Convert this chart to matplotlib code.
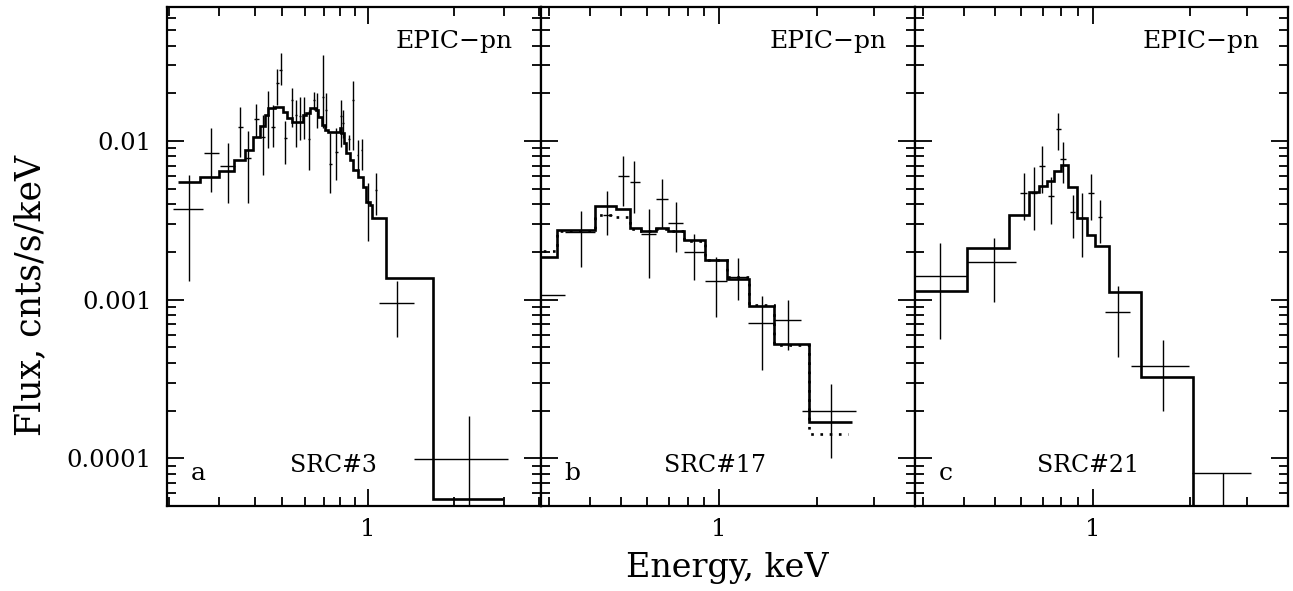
import matplotlib
matplotlib.use("Agg")
import matplotlib.pyplot as plt
import numpy as np
from matplotlib.ticker import LogLocator, FuncFormatter, NullFormatter

# ---- panel a : SRC#3 ----
a_edges = [0.215, 0.257, 0.301, 0.339, 0.371, 0.394, 0.418, 0.435, 0.447, 0.472, 0.505, 0.518,
           0.540, 0.593, 0.608, 0.625, 0.655, 0.668, 0.687, 0.705, 0.725, 0.796, 0.807, 0.824,
           0.840, 0.863, 0.887, 0.923, 0.961, 0.987, 1.013, 1.033, 1.159, 1.697, 2.99]
a_model = [0.00554, 0.00595, 0.0065, 0.00759, 0.00877, 0.01064, 0.01244, 0.01459, 0.01606,
           0.01647, 0.01531, 0.0139, 0.01324, 0.01459, 0.0150, 0.0162, 0.0157, 0.01426, 0.01262,
           0.01173, 0.01146, 0.0120, 0.01118, 0.00966, 0.00836, 0.00759, 0.00656, 0.00595,
           0.00515, 0.00414, 0.00394, 0.00325, 0.001374, 5.5e-5]
a_x = [0.236, 0.281, 0.323, 0.356, 0.379, 0.406, 0.427, 0.444, 0.463, 0.481, 0.494, 0.513, 0.541,
       0.559, 0.578, 0.597, 0.622, 0.646, 0.660, 0.696, 0.711, 0.738, 0.775, 0.802, 0.818, 0.859,
       0.887, 0.920, 0.950, 1.003, 1.064, 1.267, 2.266]
a_xlo = [0.207, 0.265, 0.303, 0.349, 0.371, 0.398, 0.420, 0.437, 0.456, 0.475, 0.488, 0.506, 0.535,
         0.553, 0.572, 0.591, 0.616, 0.640, 0.654, 0.690, 0.705, 0.730, 0.768, 0.796, 0.812, 0.853,
         0.881, 0.914, 0.944, 0.995, 1.055, 1.090, 1.456]
a_xhi = [0.264, 0.301, 0.342, 0.363, 0.387, 0.414, 0.434, 0.451, 0.470, 0.487, 0.500, 0.520, 0.547,
         0.565, 0.584, 0.603, 0.628, 0.652, 0.666, 0.702, 0.717, 0.746, 0.782, 0.808, 0.824, 0.865,
         0.893, 0.926, 0.956, 1.011, 1.073, 1.448, 3.09]
a_y = [0.00372, 0.0084, 0.00699, 0.0122, 0.00781, 0.0137, 0.0106, 0.0146, 0.0123, 0.0231, 0.0280,
       0.0104, 0.0181, 0.0146, 0.0143, 0.0146, 0.0103, 0.0181, 0.0157, 0.0190, 0.0157, 0.00716,
       0.00848, 0.0143, 0.0129, 0.0103, 0.0181, 0.00816, 0.00877, 0.00404, 0.00491, 0.000946, 0.0000995]
a_ylo = [0.00131, 0.00475, 0.00408, 0.00796, 0.00404, 0.0106, 0.00610, 0.0090, 0.0092, 0.0169, 0.0226,
         0.00716, 0.0123, 0.0092, 0.0101, 0.0103, 0.00656, 0.0157, 0.0120, 0.0121, 0.0121, 0.00467,
         0.00567, 0.0092, 0.0104, 0.00877, 0.00877, 0.00625, 0.00656, 0.00235, 0.00341, 0.000583, 0.00003]
a_yhi = [0.00610, 0.0121, 0.00976, 0.0163, 0.01156, 0.0170, 0.0147, 0.0207, 0.0169, 0.0284, 0.0357,
         0.0134, 0.0215, 0.0181, 0.0190, 0.0190, 0.0157, 0.0205, 0.0200, 0.0349, 0.0200, 0.0112,
         0.0121, 0.0181, 0.0157, 0.0109, 0.0239, 0.0101, 0.0103, 0.00546, 0.00625, 0.00131, 0.000184]

# ---- panel b : SRC#17 ----
b_edges = [0.27, 0.318, 0.414, 0.481, 0.531, 0.574, 0.641, 0.697, 0.778, 0.903, 1.054, 1.234,
           1.476, 1.893, 2.566]
b_model = [0.00186, 0.00274, 0.00389, 0.00371, 0.00281, 0.00272, 0.00284, 0.00272, 0.00237,
           0.00179, 0.00134, 0.00091, 0.000528, 0.000169]
b_edges2 = [0.27, 0.318, 0.414, 0.481, 0.531, 0.574, 0.641, 0.697, 0.778, 0.903, 1.054, 1.234,
            1.476, 1.893, 2.494]
b_model2 = [0.00203, 0.00270, 0.00341, 0.00330, 0.00278, 0.00270, 0.00280, 0.00270, 0.00233,
            0.00177, 0.00139, 0.00092, 0.000520, 0.000142]
b_x = [0.27, 0.377, 0.453, 0.507, 0.548, 0.608, 0.665, 0.734, 0.838, 0.975, 1.139, 1.349, 1.623, 2.206]
b_xlo = [0.24, 0.335, 0.440, 0.489, 0.531, 0.574, 0.641, 0.697, 0.778, 0.903, 1.066, 1.228, 1.476, 1.792]
b_xhi = [0.335, 0.414, 0.469, 0.527, 0.570, 0.641, 0.694, 0.775, 0.903, 1.054, 1.228, 1.476, 1.779, 2.627]
b_y = [0.00107, 0.00266, 0.00341, 0.00601, 0.00551, 0.00261, 0.00431, 0.00305, 0.00199, 0.00131,
       0.00139, 0.000714, 0.000743, 0.000199]
b_ylo = [0.0007, 0.00161, 0.00255, 0.00389, 0.00350, 0.00136, 0.00281, 0.00200, 0.00133, 0.000773,
         0.000993, 0.000362, 0.00048, 0.000101]
b_yhi = [0.0015, 0.00361, 0.00487, 0.00804, 0.00748, 0.00371, 0.00575, 0.00410, 0.00261, 0.00186,
         0.00184, 0.00105, 0.000993, 0.000296]

# ---- panel c : SRC#21 ----
c_edges = [0.27, 0.409, 0.550, 0.634, 0.681, 0.722, 0.757, 0.798, 0.836, 0.893, 0.958, 1.017,
           1.125, 1.405, 2.041, 2.6]
c_model = [0.00114, 0.00212, 0.00341, 0.00479, 0.00523, 0.00562, 0.0065, 0.00706, 0.00515,
           0.00328, 0.00255, 0.00218, 0.00112, 0.000323, 1e-5]
c_x = [0.339, 0.495, 0.612, 0.660, 0.697, 0.743, 0.784, 0.809, 0.866, 0.929, 0.988, 1.053, 1.194,
       1.650, 2.52]
c_xlo = [0.27, 0.409, 0.595, 0.645, 0.682, 0.727, 0.768, 0.795, 0.850, 0.912, 0.970, 1.035, 1.091,
         1.309, 2.018]
c_xhi = [0.409, 0.581, 0.629, 0.675, 0.712, 0.758, 0.800, 0.824, 0.882, 0.946, 1.006, 1.071, 1.303,
         1.983, 3.085]
c_y = [0.00141, 0.00173, 0.00472, 0.00467, 0.00699, 0.00450, 0.01186, 0.00766, 0.00355, 0.00325,
       0.00472, 0.00334, 0.000830, 0.000380, 0.0000807]
c_ylo = [0.000561, 0.000969, 0.00318, 0.00274, 0.00467, 0.00299, 0.00877, 0.00546, 0.00243, 0.00185,
         0.00318, 0.00229, 0.000432, 0.000199, 0.00003]
c_yhi = [0.00226, 0.00243, 0.00625, 0.00689, 0.00930, 0.00595, 0.01496, 0.00990, 0.00456, 0.00467,
         0.00619, 0.00425, 0.00122, 0.000555, 0.0000807]

plt.rcParams['font.family'] = ['DejaVu Serif']

fig = plt.figure(figsize=(12.93, 5.91), dpi=100)
W, H = 1293, 591
lefts = [167, 541, 915]
widths = [374, 374, 373]
xlims = [(0.197, 4.05), (0.283, 4.0), (0.283, 4.0)]
ylim = (5e-5, 0.07)

panels = [
    (a_edges, a_model, None, None, a_x, a_xlo, a_xhi, a_y, a_ylo, a_yhi, 'a', 'SRC#3'),
    (b_edges, b_model, b_edges2, b_model2, b_x, b_xlo, b_xhi, b_y, b_ylo, b_yhi, 'b', 'SRC#17'),
    (c_edges, c_model, None, None, c_x, c_xlo, c_xhi, c_y, c_ylo, c_yhi, 'c', 'SRC#21'),
]

fmt = FuncFormatter(lambda v, _: f"{v:g}")

for i, (edges, model, edges2, model2, x, xlo, xhi, y, ylo, yhi, letter, src) in enumerate(panels):
    ax = fig.add_axes([lefts[i] / W, 85 / H, widths[i] / W, 499 / H])
    ax.set_xscale('log')
    ax.set_yscale('log')

    x = np.array(x); y = np.array(y)
    xerr = [x - np.array(xlo), np.array(xhi) - x]
    yerr = [y - np.array(ylo), np.array(yhi) - y]
    ax.errorbar(x, y, xerr=xerr, yerr=yerr, fmt='none', ecolor='k', elinewidth=1.0, capsize=0)

    ax.stairs(model, edges, baseline=None, color='k', lw=1.9)
    if model2 is not None:
        ax.stairs(model2, edges2, baseline=None, color='k', lw=1.9, ls=(0, (1, 2.5)))

    ax.set_xlim(*xlims[i])
    ax.set_ylim(*ylim)

    ax.xaxis.set_major_locator(LogLocator(base=10, subs=(1.0,)))
    ax.xaxis.set_minor_locator(LogLocator(base=10, subs=np.arange(2, 10)))
    ax.yaxis.set_major_locator(LogLocator(base=10, subs=(1.0,)))
    ax.yaxis.set_minor_locator(LogLocator(base=10, subs=np.arange(2, 10), numticks=20))
    ax.xaxis.set_major_formatter(fmt)
    ax.yaxis.set_major_formatter(fmt)
    ax.xaxis.set_minor_formatter(NullFormatter())
    ax.yaxis.set_minor_formatter(NullFormatter())

    ax.tick_params(which='both', direction='in', top=True, right=True, width=1.3, labelsize=17.5)
    ax.tick_params(which='major', length=12)
    ax.tick_params(which='minor', length=6.5)
    ax.tick_params(axis='x', pad=9)
    ax.tick_params(axis='y', pad=11)
    if i > 0:
        ax.tick_params(labelleft=False)
    for s in ax.spines.values():
        s.set_linewidth(1.6)

    ax.text(0.925, 0.93, 'EPIC\u2212pn', transform=ax.transAxes, ha='right', va='center', fontsize=18)
    ax.text(0.083, 0.066, letter, transform=ax.transAxes, ha='center', va='center', fontsize=18)
    ax.text([0.444, 0.465, 0.464][i], 0.082, src, transform=ax.transAxes, ha='center',
            va='center', fontsize=17)

fig.text(727 / W, 1 - 568 / H, 'Energy, keV', ha='center', va='center', fontsize=24)
fig.text(30 / W, 1 - 295 / H, 'Flux, cnts/s/keV', ha='center', va='center', rotation=90, fontsize=25)

fig.savefig('out.png', dpi=100)
